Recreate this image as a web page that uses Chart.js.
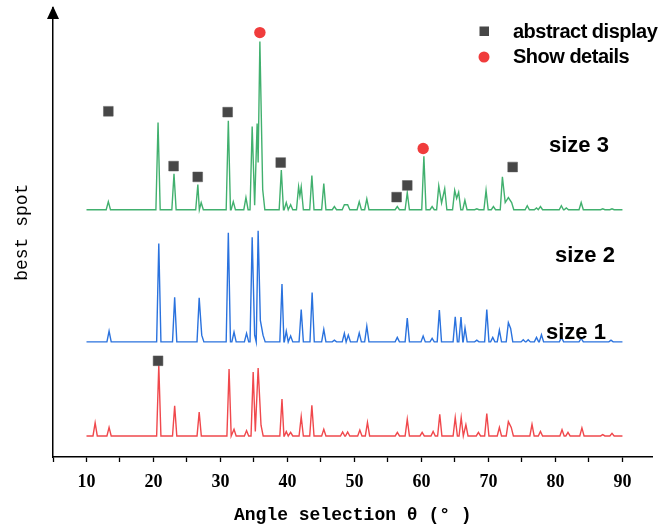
<!DOCTYPE html>
<html>
<head>
<meta charset="utf-8">
<script src="https://cdn.jsdelivr.net/npm/chart.js@4/dist/chart.umd.min.js"></script>
<style>
  html, body { margin: 0; padding: 0; background: #fff; }
  #wrap { width: 660px; height: 529px; }
</style>
</head>
<body>
<div id="wrap"><canvas id="xrdChart" width="660" height="529"></canvas></div>
<script>
// peak positions (degrees) and heights above each trace's baseline
const redAngles = [11.29, 13.37, 20.79, 23.16, 26.82, 31.28, 32.02, 33.89, 34.88, 35.2, 35.62, 36.05, 39.18, 39.82, 40.47, 42.05, 43.64, 45.42, 48.23, 48.98, 50.8, 51.94, 56.4, 57.88, 60.1, 61.74, 62.73, 65.04, 65.93, 66.63, 68.5, 69.75, 71.63, 72.97, 73.4, 76.5, 77.76, 80.98, 81.87, 83.95, 87.06, 88.44];
const redHeights = [2.9, 1.9, 15.8, 6.7, 5.3, 14.9, 1.5, 1.2, 14.2, 1.0, 15.1, 2.4, 8.2, 1.0, 0.8, 4.3, 6.8, 1.5, 0.9, 0.9, 1.3, 3.0, 0.8, 3.7, 0.8, 1.0, 4.8, 4.1, 4.1, 2.5, 0.8, 5.0, 1.9, 3.2, 1.9, 2.6, 1.0, 1.4, 0.8, 1.8, 0.3, 0.6];

const blueAngles = [13.37, 20.79, 23.16, 26.82, 27.2, 31.17, 32.02, 33.89, 34.73, 35.1, 35.62, 35.95, 36.35, 39.18, 39.82, 40.47, 42.05, 43.68, 45.42, 47.0, 48.49, 49.08, 50.71, 51.84, 56.39, 57.88, 60.25, 61.59, 62.67, 65.04, 65.9, 66.5, 68.26, 69.75, 70.64, 71.63, 72.97, 73.31, 75.19, 75.93, 77.17, 77.91, 80.9, 83.84, 88.29];
const blueHeights = [2.4, 21.9, 9.9, 9.8, 1.5, 24.3, 2.2, 1.9, 23.3, 1.5, 24.7, 4.8, 1.5, 12.9, 2.4, 1.3, 7.2, 11.0, 2.8, 0.4, 1.9, 1.5, 2.0, 3.5, 1.0, 5.3, 1.3, 0.8, 7.1, 5.6, 5.5, 3.1, 0.4, 7.2, 1.0, 2.6, 4.3, 3.0, 0.5, 0.5, 1.0, 1.6, 1.0, 0.8, 0.4];

const greenAngles = [13.26, 20.68, 23.06, 26.62, 27.12, 31.17, 31.91, 33.8, 34.73, 35.1, 35.47, 35.62, 35.88, 36.3, 39.08, 39.82, 40.47, 41.66, 41.85, 42.05, 43.64, 45.42, 47.0, 48.49, 48.98, 50.71, 51.84, 56.39, 57.88, 60.36, 61.59, 62.58, 63.0, 63.47, 64.96, 65.25, 65.55, 66.48, 68.26, 69.64, 70.74, 72.08, 72.5, 72.97, 73.46, 75.79, 77.17, 77.76, 80.88, 81.62, 83.84, 87.06, 88.44];
const greenHeights = [1.8, 19.4, 8.0, 5.6, 1.6, 19.8, 1.8, 2.7, 18.5, 1.0, 19.2, 10.5, 37.4, 4.5, 8.8, 1.6, 1.1, 5.1, 3.1, 5.1, 7.6, 5.8, 0.7, 1.1, 1.1, 1.8, 2.4, 0.7, 3.8, 11.9, 0.7, 5.3, 1.5, 4.7, 4.3, 2.5, 3.9, 2.1, 0.2, 4.3, 0.7, 7.3, 1.6, 2.7, 1.6, 0.9, 0.4, 0.7, 0.9, 0.4, 1.6, 0.2, 0.2];

// vertical offsets of the stacked traces: size 1 (red), size 2 (blue), size 3 (green)
const baselines = [4.68, 25.6, 55.0];
const traceNames = ['size 1', 'size 2', 'size 3'];

// phase markers
const squareAngles = [13.26, 23.0, 26.6, 31.07, 38.99, 56.29, 57.88, 73.61, 20.68];
const squareLevels = [76.9, 64.7, 62.3, 76.7, 65.5, 57.8, 60.4, 64.5, 21.4];
const dotAngles = [35.88, 60.25];
const dotLevels = [94.4, 68.6];

const xTickValues = [10, 20, 30, 40, 50, 60, 70, 80, 90];

// turn a peak list into a polyline; neighbours closer than 0.5 deg join directly,
// otherwise the line drops to the baseline between them
function buildTrace(angles, heights, base) {
    const w = 0.32;
    const gap = i => (i < 0 || i >= angles.length - 1) ? 10 : angles[i + 1] - angles[i];
    const pts = [{ x: 10, y: base }];
    angles.forEach((a, i) => {
        const gl = gap(i - 1), gr = gap(i);
        if (gl >= 0.5) pts.push({ x: a - Math.min(w, gl * 0.45), y: base });
        pts.push({ x: a, y: base + heights[i] });
        if (gr >= 0.5) pts.push({ x: a + Math.min(w, gr * 0.45), y: base });
    });
    pts.push({ x: 90, y: base });
    return pts;
}

const toPoints = (xs, ys) => xs.map((x, i) => ({ x: x, y: ys[i] }));

const lineStyle = color => ({
    showLine: true,
    borderColor: color,
    backgroundColor: color,
    borderWidth: 1.4,
    pointRadius: 0,
    tension: 0,
    order: 2
});

const overlayPlugin = {
    id: 'overlay',
    afterDraw(chart) {
        const ctx = chart.ctx;
        const area = chart.chartArea;
        ctx.save();
        // arrow head on the y axis
        ctx.fillStyle = '#000';
        ctx.beginPath();
        ctx.moveTo(area.left, 6);
        ctx.lineTo(area.left - 6, 19);
        ctx.lineTo(area.left + 6, 19);
        ctx.closePath();
        ctx.fill();

        // trace labels
        ctx.fillStyle = '#000';
        ctx.font = 'bold 22px "Liberation Sans", Arial, sans-serif';
        ctx.textBaseline = 'middle';
        ctx.textAlign = 'left';
        ctx.fillText(traceNames[2], 549, 146);
        ctx.fillText(traceNames[1], 555, 256);
        ctx.fillText(traceNames[0], 546, 333);

        // legend
        const sq = chart.data.datasets[0];
        const dot = chart.data.datasets[1];
        ctx.fillStyle = sq.backgroundColor;
        ctx.fillRect(479.5, 26.5, 9.5, 9.5);
        ctx.fillStyle = dot.backgroundColor;
        ctx.beginPath();
        ctx.arc(484, 57, 5.5, 0, Math.PI * 2);
        ctx.fill();
        ctx.fillStyle = '#000';
        ctx.font = 'bold 20px "Liberation Sans", Arial, sans-serif';
        ctx.letterSpacing = '-0.5px';
        ctx.fillText(sq.label, 513, 32);
        ctx.fillText(dot.label, 513, 57);
        ctx.restore();
    }
};

new Chart(document.getElementById('xrdChart').getContext('2d'), {
    type: 'scatter',
    data: {
        datasets: [
            {
                label: 'abstract display',
                data: toPoints(squareAngles, squareLevels),
                pointStyle: 'rect',
                pointRadius: 6.9,
                backgroundColor: '#474747',
                borderColor: '#5a5a5a',
                borderWidth: 0.5,
                order: 0
            },
            {
                label: 'Show details',
                data: toPoints(dotAngles, dotLevels),
                pointStyle: 'circle',
                pointRadius: 5.7,
                backgroundColor: '#f03c3c',
                borderColor: '#f03c3c',
                borderWidth: 0,
                order: 0
            },
            Object.assign({ label: traceNames[2], data: buildTrace(greenAngles, greenHeights, baselines[2]) }, lineStyle('#41b06e')),
            Object.assign({ label: traceNames[1], data: buildTrace(blueAngles, blueHeights, baselines[1]) }, lineStyle('#2a72de')),
            Object.assign({ label: traceNames[0], data: buildTrace(redAngles, redHeights, baselines[0]) }, lineStyle('#f0484c'))
        ]
    },
    options: {
        responsive: false,
        animation: false,
        devicePixelRatio: 1,
        layout: { padding: { top: 6, right: 3, left: 0, bottom: 0 } },
        scales: {
            x: {
                type: 'linear',
                min: 5,
                max: 94.5,
                afterFit: s => { s.height = 72; },
                afterBuildTicks: s => { s.ticks = s.ticks.filter(t => t.value <= 90); },
                border: { display: true, color: '#000', width: 1.5 },
                grid: { display: true, drawOnChartArea: false, drawTicks: true, tickLength: 5, tickColor: '#000', tickWidth: 1.3 },
                ticks: {
                    stepSize: 5,
                    includeBounds: false,
                    autoSkip: false,
                    maxRotation: 0,
                    padding: 10,
                    color: '#000',
                    font: { family: '"Liberation Serif", "Times New Roman", serif', size: 18, weight: 'bold' },
                    callback: v => (xTickValues.includes(v) ? String(v) : '')
                },
                title: {
                    display: true,
                    text: 'Angle selection θ (° )',
                    color: '#000',
                    padding: { top: 0, bottom: 3 },
                    font: { family: '"Liberation Mono", "DejaVu Sans Mono", monospace', size: 18, weight: 'bold' }
                }
            },
            y: {
                type: 'linear',
                min: 0,
                max: 100,
                afterFit: s => { s.width = 53; },
                border: { display: true, color: '#000', width: 1.5 },
                grid: { display: false },
                ticks: { display: false },
                title: {
                    display: true,
                    text: 'best spot',
                    color: '#000',
                    padding: { top: 11, bottom: 0 },
                    font: { family: '"Liberation Mono", "DejaVu Sans Mono", monospace', size: 18 }
                }
            }
        },
        plugins: {
            legend: { display: false },
            tooltip: { enabled: false }
        }
    },
    plugins: [overlayPlugin]
});
</script>
</body>
</html>
